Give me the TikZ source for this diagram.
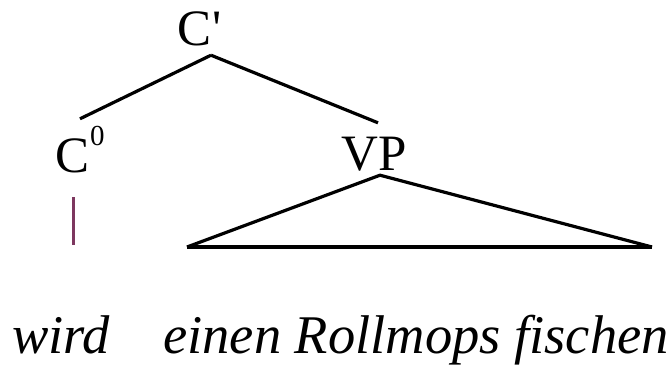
\documentclass[tikz,border=0pt]{standalone}
\usepackage{fontspec}
\setmainfont{Liberation Serif}
\usepackage{tikz}
\usetikzlibrary{positioning}

\definecolor{barcol}{RGB}{125,55,95}

\begin{document}
\begin{tikzpicture}[x=1pt,y=-1pt,
    cat/.style={inner sep=0pt,anchor=base,text height=34pt,text depth=0pt,
        font=\fontsize{51}{51}\selectfont},
    word/.style={inner sep=0pt,anchor=base,font=\fontsize{54.5}{54.5}\selectfont\itshape},
    edge/.style={line width=3.2pt,black},
    bar/.style={line width=3pt,barcol}]
    \useasboundingbox (0,0) rectangle (672,365);

    % categories
    \node[cat] (cbar) at (195,45) {C\rlap{\textquotesingle}};
    \node[cat] (c0) at (73,172) {C\rlap{\raisebox{27pt}{\fontsize{29}{29}\selectfont 0}}};
    \node[cat] (vp) at (374,170) {VP};

    % words
    \node[word] (wird) at (61,353) {wird};
    \node[word] (phrase) at (416,353) {einen Rollmops fischen};

    \coordinate (tl) at (187,247);
    \coordinate (tr) at (652,247);

    \draw[edge] ([xshift=16pt,yshift=-10pt]cbar.south) -- ([xshift=7pt,yshift=19pt]c0.north);
    \draw[edge] ([xshift=16pt,yshift=-10pt]cbar.south) -- ([xshift=4pt,yshift=13pt]vp.north);
    \draw[edge,line join=round] (tl) -- ([xshift=6pt,yshift=-5pt]vp.south) -- (tr);
    \draw[edge,line width=4pt] (tl) -- (tr);
    \draw[bar] ([yshift=-25pt]c0.south) -- ([yshift=-73pt]c0.south);
\end{tikzpicture}
\end{document}
